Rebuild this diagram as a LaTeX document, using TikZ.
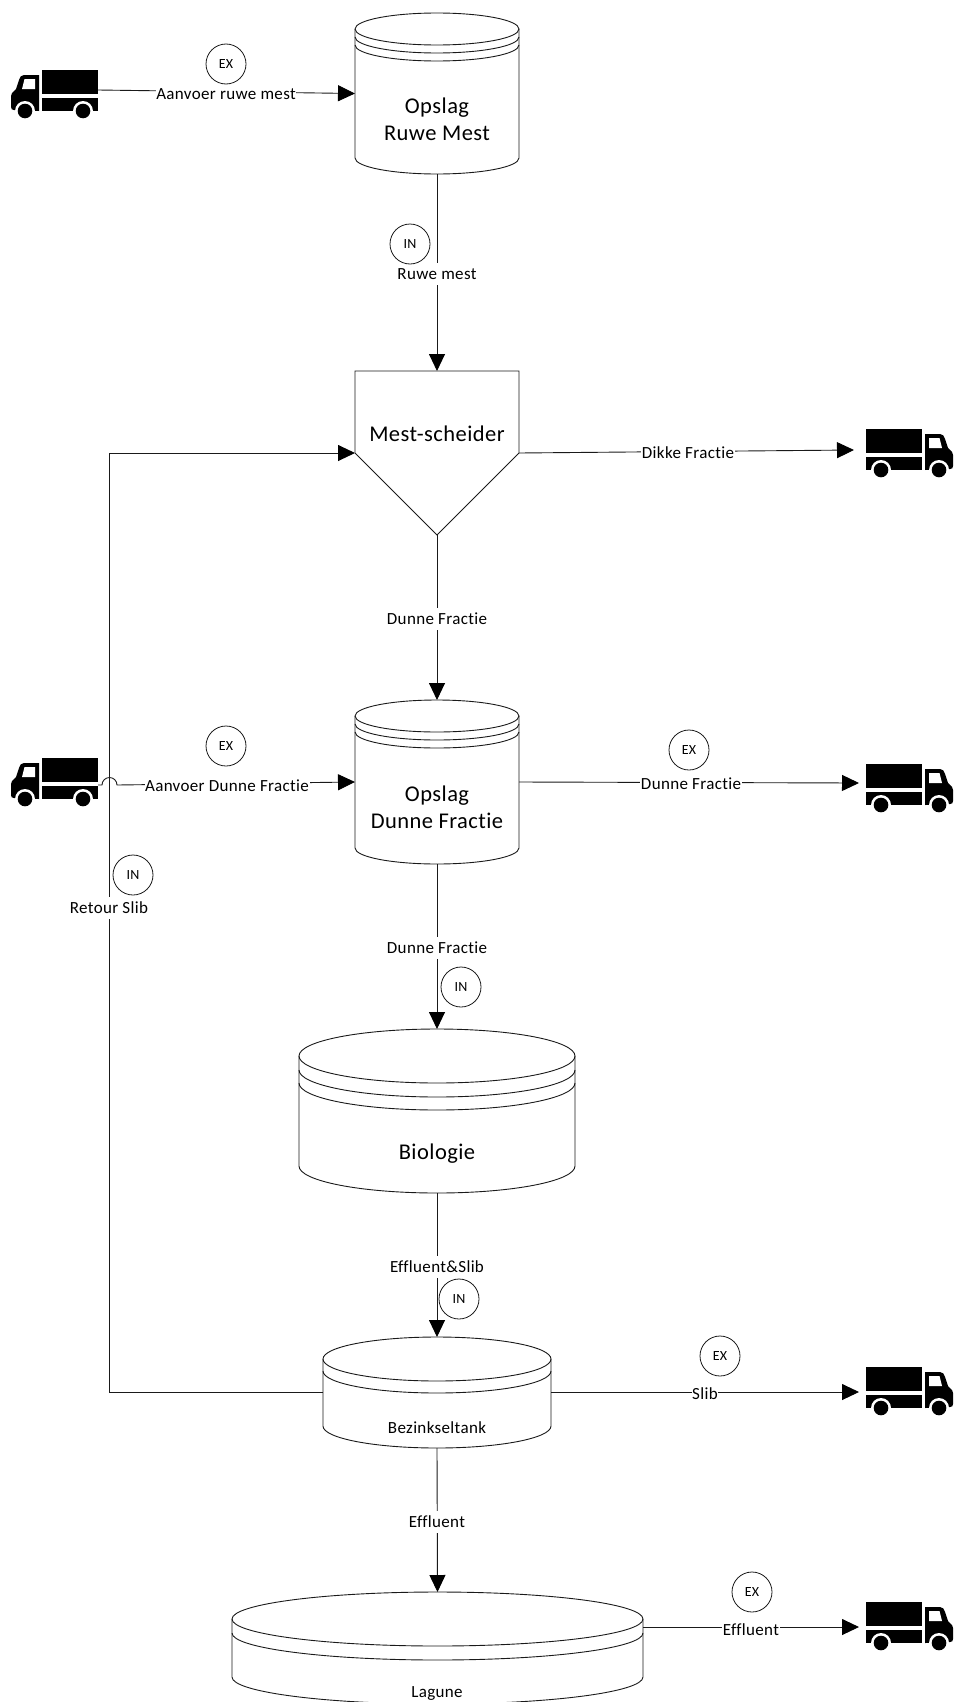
\documentclass[tikz,border=0pt]{standalone}
\usepackage{fontspec}
\setmainfont{Carlito}[Ligatures=NoCommon,LetterSpace=2]
\usetikzlibrary{arrows.meta}
\definecolor{ln}{HTML}{1A1A1A}
\tikzset{
  flow/.style={draw=ln,line width=0.9pt,-{Triangle[length=17pt,width=16pt,color=black]}},
  plainline/.style={draw=ln,line width=0.9pt},
  lbl/.style={fill=white,inner xsep=0.6pt,inner ysep=0pt,minimum height=22pt,font=\fontsize{17}{19}\selectfont,text=black},
  big/.style={align=center,font=\fontsize{22.5}{27}\selectfont,text=black,inner sep=0pt},
  tag/.style={circle,draw=ln,line width=0.8pt,minimum size=40pt,inner sep=0pt,font=\fontsize{14}{16}\selectfont,text=black,fill=white},
  truckbox/.style={minimum width=87pt,minimum height=48pt,inner sep=0pt,outer sep=0pt},
}
% tank: name, left, top, right, bottom, ry, list of band offsets
\newcommand{\tank}[7]{%
  \pgfmathsetmacro{\cxx}{(#2+#4)/2}\pgfmathsetmacro{\rxx}{(#4-#2)/2}%
  \pgfmathsetmacro{\cyy}{(#3+#5)/2}%
  \pgfmathsetmacro{\wdd}{#4-#2}\pgfmathsetmacro{\htt}{#5-#3}%
  \node[inner sep=0pt,outer sep=0pt,minimum width=\wdd pt,minimum height=\htt pt] (#1) at (\cxx,\cyy) {};
  \draw[plainline,fill=white] (#2,#3+#6) arc[x radius=\rxx,y radius=#6,start angle=180,end angle=360]
     -- (#4,#5-#6) arc[x radius=\rxx,y radius=#6,start angle=0,end angle=180] -- cycle;
  \draw[plainline] (#2,#3+#6) arc[x radius=\rxx,y radius=#6,start angle=180,end angle=0];
  \foreach \b in {#7}{\draw[plainline] (#2,#3+#6+\b) arc[x radius=\rxx,y radius=#6,start angle=180,end angle=0];}
}
% truck facing left: origin at top-left of its box
\newcommand{\truckshape}{%
  \fill[black] (31,0) rectangle (87,24);
  \fill[black] (31,28) -- (87,28) -- (87,41) -- (31,41) -- cycle;
  \fill[black] (28,5) -- (13,5) .. controls (10,5) and (9,7) .. (8,10) -- (5,19) -- (1,23) .. controls (0,24) and (0,25) .. (0,26) -- (0,37) .. controls (0,39) and (1,40) .. (3,40) -- (28,41) -- cycle;
  \fill[white] (13.5,9) -- (24,9) -- (24,19) -- (11,19) -- cycle;
  \fill[white] (14,41) circle (10);
  \fill[white] (72,41) circle (10);
  \fill[white] (0,42) rectangle (87,52);
  \fill[black] (14,41) circle (7.3);
  \fill[black] (72,41) circle (7.3);
}
\newcommand{\truckleft}[3]{%
  \node[truckbox] (#1) at (#2+43.5,#3+24) {};
  \begin{scope}[shift={(#2,#3)}]\truckshape\end{scope}
}
\newcommand{\truckright}[3]{%
  \node[truckbox] (#1) at (#2+43.5,#3+24) {};
  \begin{scope}[shift={(#2+87,#3)},xscale=-1]\truckshape\end{scope}
}
\begin{document}
\begin{tikzpicture}[x=1pt,y=-1pt]
\useasboundingbox (0,0) rectangle (955,1702);
% vessels
\tank{opslagA}{355}{13}{519}{174}{16}{8,16}
\tank{opslagB}{355}{700}{519}{864}{16}{8,16}
\tank{bio}{299}{1029}{575}{1193}{27}{14,27}
\tank{bezink}{323}{1337}{551}{1448}{22}{12}
\tank{lagune}{232}{1592}{643}{1704}{27}{14}
% separator
\coordinate (sepW) at (355,453);
\coordinate (sepE) at (519,453);
\coordinate (sepN) at (437,371);
\coordinate (sepS) at (437,535);
\draw[plainline,line join=miter] (sepN) -| (sepE) -- (sepS) -- (sepW) |- (sepN);
% trucks
\truckleft{tA}{11}{70}
\truckleft{tB}{11}{758}
\truckright{tC}{866}{429}
\truckright{tD}{866}{764}
\truckright{tE}{866}{1367}
\truckright{tF}{866}{1602}
% free ends
\coordinate (retour) at (109,1392);
% connectors
\draw[flow] ([yshift=4pt]tA.east) -- (opslagA.west);
\draw[flow] (opslagA.south) -- (sepN);
\draw[flow] (sepS) -- (opslagB.north);
\draw[flow] (opslagB.south) -- (bio.north);
\draw[flow] (bio.south) -- (bezink.north);
\draw[flow] (bezink.south) -- (lagune.north);
\draw[flow] (sepE) -- (854,450);
\draw[flow] (opslagB.east) -- (859,783);
\draw[flow] (551,1392) -- (859,1392);
\draw[flow] (643,1627) -- (859,1627);
\draw[flow] (323,1392) -- (retour) -- (109,453) -- (sepW);
\draw[flow] (98,785) -- (102,785) arc[x radius=7.5,y radius=7.5,start angle=180,end angle=360] -- (opslagB.west);
% labels
\node[lbl] (l1) at (226,94) {Aanvoer ruwe mest};
\node[lbl] (l2) at (437,274) {Ruwe mest};
\node[lbl] (l3) at (688,453) {Dikke Fractie};
\node[lbl] (l4) at (437,619) {Dunne Fractie};
\node[lbl] (l5) at (227,786) {Aanvoer Dunne Fractie};
\node[lbl] (l6) at (691,784) {Dunne Fractie};
\node[lbl] (l7) at (109,908) {Retour Slib};
\node[lbl] (l8) at (437,948) {Dunne Fractie};
\node[lbl] (l9) at (437,1267) {Effluent\&Slib};
\node[lbl] (l10) at (705,1394) {Slib};
\node[lbl] (l11) at (437,1522) {Effluent};
\node[lbl] (l12) at (751,1630) {Effluent};
\node[lbl] (l13) at (437,1428) {Bezinkseltank};
\node[lbl] (l14) at (437,1693) {Lagune};
\node[big] (b1) at (437,119) {Opslag\\Ruwe Mest};
\node[big] (b3) at (437,434) {Mest-scheider};
\node[big] (b4) at (437,807) {Opslag\\Dunne Fractie};
\node[big] (b5) at (437,1154) {Biologie};
% tags
\node[tag] (e1) at (226,64) {EX};
\node[tag] (i1) at (410,244) {IN};
\node[tag] (e2) at (226,746) {EX};
\node[tag] (i2) at (133,875) {IN};
\node[tag] (e3) at (689,750) {EX};
\node[tag] (i3) at (461,987) {IN};
\node[tag] (i4) at (459,1299) {IN};
\node[tag] (e4) at (720,1356) {EX};
\node[tag] (e5) at (752,1592) {EX};
\end{tikzpicture}
\end{document}
